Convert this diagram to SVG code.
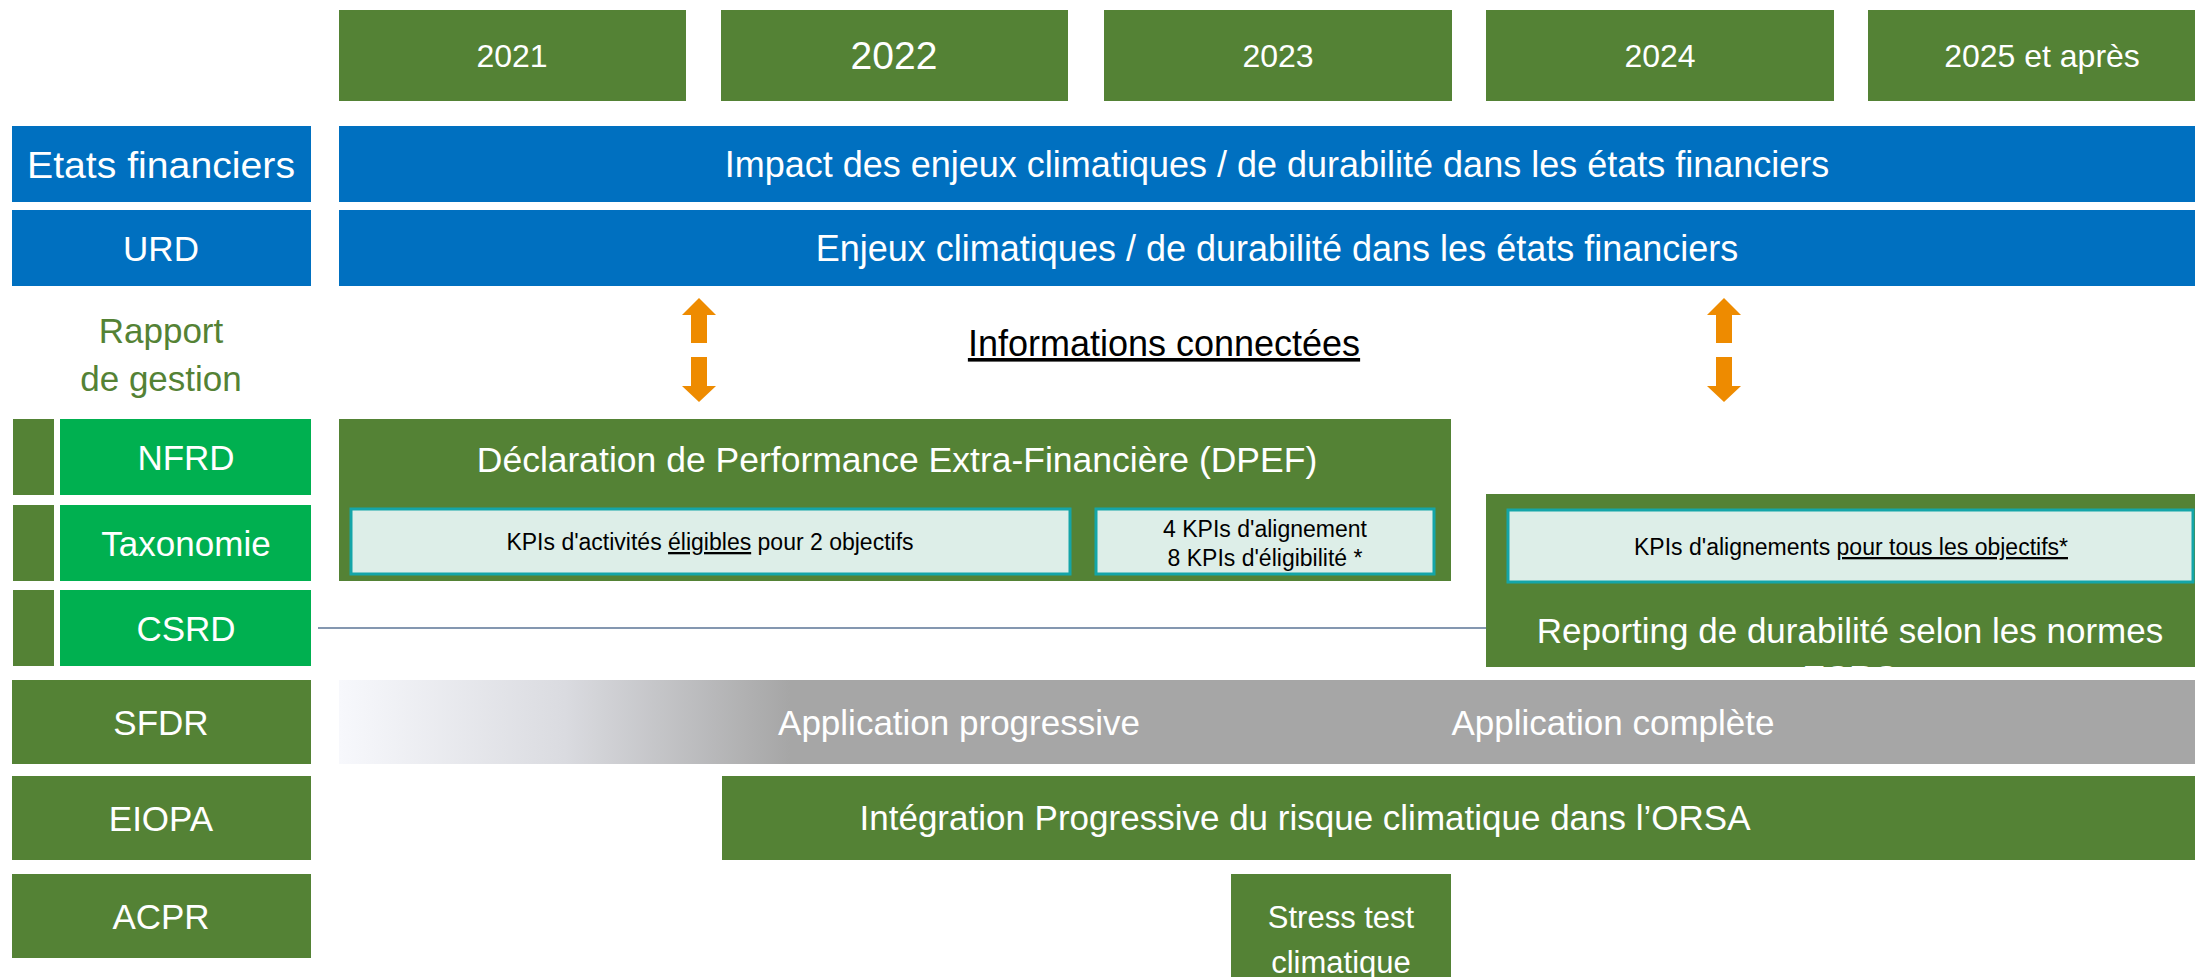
<svg xmlns="http://www.w3.org/2000/svg" width="2195" height="977" viewBox="0 0 2195 977">
<defs>
<style>
text{font-family:"Liberation Sans",Arial,sans-serif;}
.w{fill:#fff;}
.g{fill:#548235;}
.b{fill:#0070C0;}
.lg{fill:#00B050;}
.t35{font-size:35px;text-anchor:middle;}
.t36{font-size:36px;text-anchor:middle;}
.t32{font-size:32px;text-anchor:middle;}
.kpi{fill:#DDEEE8;stroke:#14A5A8;stroke-width:3;}
.k{font-size:23px;fill:#000;text-anchor:middle;}
.u{text-decoration:underline;}
.arr{fill:#EE8B00;}
</style>
<linearGradient id="sfdrGrad" gradientUnits="userSpaceOnUse" x1="339" y1="0" x2="790" y2="0">
<stop offset="0" stop-color="#F7F8FC"/>
<stop offset="0.5" stop-color="#DADBE0"/>
<stop offset="1" stop-color="#A6A6A6"/>
</linearGradient>
<clipPath id="repClip"><rect x="1486" y="494" width="709" height="173"/></clipPath>
</defs>

<g id="year-2021"><rect class="g" x="339" y="10" width="347" height="91"/><text class="w t32" x="512" y="67">2021</text></g>
<g id="year-2022"><rect class="g" x="721" y="10" width="347" height="91"/><text class="w t32" x="894" y="69" style="font-size:39px">2022</text></g>
<g id="year-2023"><rect class="g" x="1104" y="10" width="348" height="91"/><text class="w t32" x="1278" y="67">2023</text></g>
<g id="year-2024"><rect class="g" x="1486" y="10" width="348" height="91"/><text class="w t32" x="1660" y="67">2024</text></g>
<g id="year-2025"><rect class="g" x="1868" y="10" width="327" height="91"/><text class="w t32" x="2042" y="67">2025 et après</text></g>

<g id="label-etats"><rect class="b" x="12" y="126" width="299" height="76"/><text class="w t35" x="161" y="178" style="font-size:37px" textLength="268" lengthAdjust="spacingAndGlyphs">Etats financiers</text></g>
<g id="bar-etats"><rect class="b" x="339" y="126" width="1856" height="76"/><text class="w t36" x="1277" y="177">Impact des enjeux climatiques / de durabilité dans les états financiers</text></g>

<g id="label-urd"><rect class="b" x="12" y="210" width="299" height="76"/><text class="w t35" x="161" y="261">URD</text></g>
<g id="bar-urd"><rect class="b" x="339" y="210" width="1856" height="76"/><text class="w t36" x="1277" y="261">Enjeux climatiques / de durabilité dans les états financiers</text></g>

<g id="label-rapport"><text class="g t35" x="161" y="343">Rapport</text><text class="g t35" x="161" y="391">de gestion</text></g>

<g id="info-connectees"><text class="u" x="1164" y="356" style="font-size:36px;text-anchor:middle;fill:#000">Informations connectées</text></g>

<g id="label-nfrd"><rect class="g" x="13" y="419" width="41" height="76"/><rect class="lg" x="60" y="419" width="251" height="76"/><text class="w t35" x="186" y="470">NFRD</text></g>
<g id="label-taxonomie"><rect class="g" x="13" y="505" width="41" height="76"/><rect class="lg" x="60" y="505" width="251" height="76"/><text class="w t35" x="186" y="556">Taxonomie</text></g>
<g id="label-csrd"><rect class="g" x="13" y="590" width="41" height="76"/><rect class="lg" x="60" y="590" width="251" height="76"/><text class="w t35" x="186" y="641">CSRD</text></g>

<g id="connectors">
<line x1="318" y1="628" x2="1486" y2="628" stroke="#8497B0" stroke-width="2"/>
<polygon class="arr" points="699,298 716,315 707,315 707,343 691,343 691,315 682,315"/>
<polygon class="arr" points="691,357 707,357 707,386 716,386 699,402 682,386 691,386"/>
<polygon class="arr" points="1724,298 1741,315 1732,315 1732,343 1716,343 1716,315 1707,315"/>
<polygon class="arr" points="1716,357 1732,357 1732,386 1741,386 1724,402 1707,386 1716,386"/>
</g>

<g id="dpef">
<rect class="g" x="339" y="419" width="1112" height="162"/>
<text class="w t35" x="897" y="472" style="font-size:35.5px">Déclaration de Performance Extra-Financière (DPEF)</text>
</g>
<g id="kpi-eligibles">
<rect class="kpi" x="351" y="509" width="719" height="65"/>
<text class="k" x="710" y="550">KPIs d'activités <tspan class="u">éligibles</tspan> pour 2 objectifs</text>
</g>
<g id="kpi-alignement">
<rect class="kpi" x="1096" y="509" width="338" height="65"/>
<text class="k" x="1265" y="537">4 KPIs d'alignement</text>
<text class="k" x="1265" y="566">8 KPIs d'éligibilité *</text>
</g>

<g id="reporting">
<rect class="g" x="1486" y="494" width="709" height="173"/>
<g clip-path="url(#repClip)">
<text class="w t35" x="1850" y="643">Reporting de durabilité selon les normes</text>
<text class="w t35" x="1850" y="690">ESRS</text>
</g>
</g>
<g id="kpi-tous">
<rect class="kpi" x="1508" y="510" width="685" height="72"/>
<text class="k" x="1851" y="555">KPIs d'alignements <tspan class="u">pour tous les objectifs*</tspan></text>
</g>

<g id="label-sfdr"><rect class="g" x="12" y="680" width="299" height="84"/><text class="w t35" x="161" y="735">SFDR</text></g>
<g id="bar-sfdr">
<rect x="339" y="680" width="1856" height="84" fill="url(#sfdrGrad)"/>
<text class="w t35" x="959" y="735">Application progressive</text>
<text class="w t35" x="1613" y="735">Application complète</text>
</g>

<g id="label-eiopa"><rect class="g" x="12" y="776" width="299" height="84"/><text class="w t35" x="161" y="831">EIOPA</text></g>
<g id="bar-eiopa"><rect class="g" x="722" y="776" width="1473" height="84"/><text class="w t35" x="1305" y="830">Intégration Progressive du risque climatique dans l’ORSA</text></g>

<g id="label-acpr"><rect class="g" x="12" y="874" width="299" height="84"/><text class="w t35" x="161" y="929">ACPR</text></g>
<g id="stress-test"><rect class="g" x="1231" y="874" width="220" height="110"/><text class="w" x="1341" y="928" style="font-size:31px;text-anchor:middle">Stress test</text><text class="w" x="1341" y="973" style="font-size:31px;text-anchor:middle">climatique</text></g>
</svg>
